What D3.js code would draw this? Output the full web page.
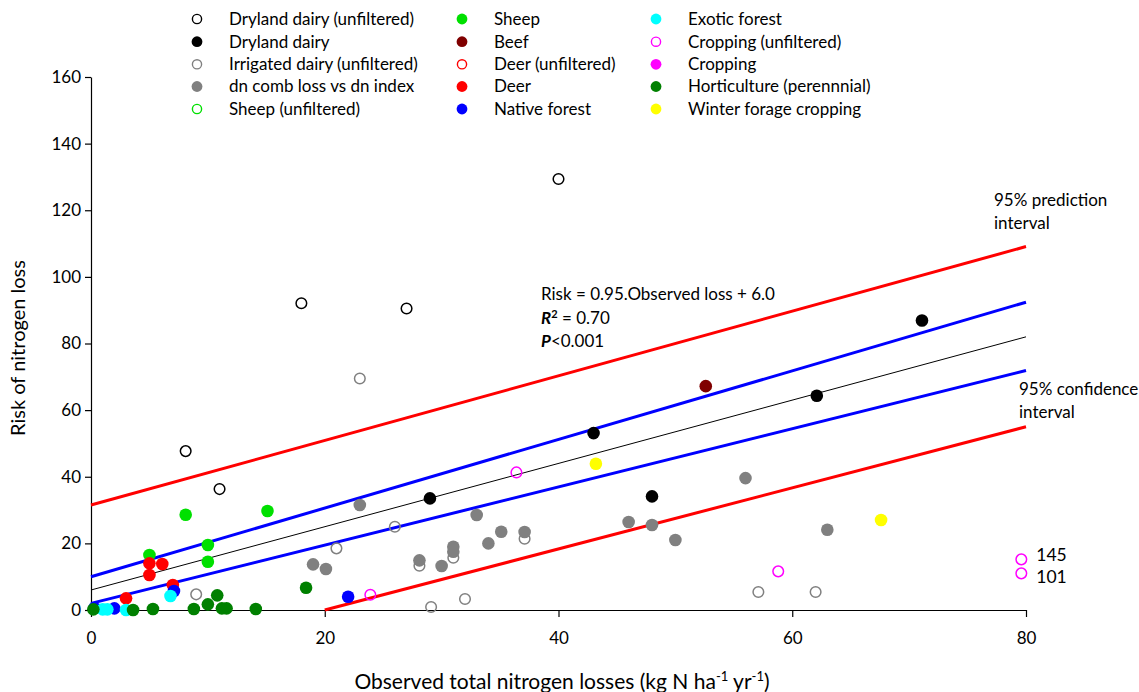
<!DOCTYPE html>
<html>
<head>
<meta charset="utf-8">
<script src="https://cdn.jsdelivr.net/npm/d3@7"></script>
<style>
  body { margin: 0; background: #fff; }
  svg text { font-family: Lato, "Liberation Sans", sans-serif; fill: #000; }
</style>
</head>
<body>
<svg id="chart" width="1139" height="692"></svg>
<script>
// points, [observed loss, risk]
const drylandUnf = [[8.1, 47.7], [11.0, 36.3], [18.0, 92.1], [27.0, 90.5], [40.0, 129.4]];
const dryland = [[29.0, 33.5], [43.0, 53.1], [48.0, 34.1], [62.1, 64.3], [71.1, 86.9]];
const irrigatedUnf = [[9.0, 4.7], [21.0, 18.5], [23.0, 69.5], [26.0, 25.0], [28.1, 13.3], [29.1, 0.9],
                      [31.0, 15.7], [32.0, 3.3], [37.1, 21.4], [57.1, 5.4], [62.0, 5.4]];
const dnComb = [[19.0, 13.7], [20.1, 12.3], [23.0, 31.5], [28.1, 14.9], [30.0, 13.2], [31.0, 19.0],
                [31.0, 17.5], [33.0, 28.5], [34.0, 20.0], [35.1, 23.5], [37.1, 23.4], [46.0, 26.4],
                [48.0, 25.5], [50.0, 21.0], [56.0, 39.6], [63.0, 24.1]];
const sheepUnf = [];
const sheep = [[5.0, 16.5], [8.1, 28.6], [10.0, 19.5], [10.0, 14.5], [15.1, 29.7]];
const beef = [[52.6, 67.2]];
const deerUnf = [];
const deer = [[3.0, 3.5], [5.0, 14.0], [6.1, 13.8], [5.0, 10.5], [7.0, 7.5]];
const nativeForest = [[0.3, 0.6], [2.0, 0.5], [7.1, 5.7], [22.0, 4.0]];
const exoticForest = [[1.0, 0.2], [1.4, 0.2], [3.0, 0.0], [6.8, 4.2]];
const croppingUnf = [[23.9, 4.6], [36.4, 41.3], [58.8, 11.6], [79.6, 15.2], [79.6, 11.0]];
const cropping = [];
const horticulture = [[0.2, 0.2], [3.6, 0.0], [5.3, 0.3], [8.8, 0.3], [10.0, 1.7], [10.8, 4.4],
                      [11.2, 0.5], [11.6, 0.5], [14.1, 0.3], [18.4, 6.7]];
const winterForage = [[43.2, 43.9], [67.6, 27.0]];

// fitted line and intervals (end points)
const fitLine = [[0, 6.0], [80, 82.0]];
const confUpper = [[0, 10.0], [80, 92.4]];
const confLower = [[0, 2.0], [80, 71.9]];
const predUpper = [[0, 31.5], [80, 109.1]];
const predLower = [[20, 0], [80, 55.0]];

const xTicks = [0, 20, 40, 60, 80];
const yTicks = [0, 20, 40, 60, 80, 100, 120, 140, 160];
// true values of the two cropping points drawn at the edge
const offscaleLabels = ["145", "101"];

const series = [
  {name: "Dryland dairy (unfiltered)", data: drylandUnf, color: "#000000", open: true},
  {name: "Dryland dairy", data: dryland, color: "#000000", open: false},
  {name: "Irrigated dairy (unfiltered)", data: irrigatedUnf, color: "#808080", open: true},
  {name: "dn comb loss vs dn index", data: dnComb, color: "#808080", open: false},
  {name: "Sheep (unfiltered)", data: sheepUnf, color: "#00e000", open: true},
  {name: "Sheep", data: sheep, color: "#00e000", open: false},
  {name: "Beef", data: beef, color: "#800000", open: false},
  {name: "Deer (unfiltered)", data: deerUnf, color: "#ff0000", open: true},
  {name: "Deer", data: deer, color: "#ff0000", open: false},
  {name: "Native forest", data: nativeForest, color: "#0000ff", open: false},
  {name: "Exotic forest", data: exoticForest, color: "#00ffff", open: false},
  {name: "Cropping (unfiltered)", data: croppingUnf, color: "#ff00ff", open: true},
  {name: "Cropping", data: cropping, color: "#ff00ff", open: false},
  {name: "Horticulture (perennnial)", data: horticulture, color: "#008000", open: false},
  {name: "Winter forage cropping", data: winterForage, color: "#ffff00", open: false}
];

const svg = d3.select("#chart");

const x = d3.scaleLinear().domain([0, 80]).range([91, 1026]);
const y = d3.scaleLinear().domain([0, 160]).range([610, 77]);

// axes
const yAxis = svg.append("g")
    .attr("transform", "translate(91,0)")
    .call(d3.axisLeft(y).tickValues(yTicks).tickSize(6).tickSizeOuter(0).tickPadding(4));
const xAxis = svg.append("g")
    .attr("transform", "translate(0,610)")
    .call(d3.axisBottom(x).tickValues(xTicks).tickSize(7).tickSizeOuter(0).tickPadding(15));
[xAxis, yAxis].forEach(g => {
  g.selectAll("path, line").attr("stroke", "#000").attr("stroke-width", 1.2);
  g.selectAll("text").attr("font-size", 17).attr("font-family", "Lato, sans-serif");
});

svg.append("text")
    .attr("x", 562).attr("y", 689)
    .attr("text-anchor", "middle")
    .attr("font-size", 21)
    .html('Observed total nitrogen losses (kg N ha<tspan dy="-8" font-size="13">-1</tspan><tspan dy="8"> yr</tspan><tspan dy="-8" font-size="13">-1</tspan><tspan dy="8">)</tspan>');

svg.append("text")
    .attr("transform", "translate(25,348) rotate(-90)")
    .attr("text-anchor", "middle")
    .attr("font-size", 20)
    .text("Risk of nitrogen loss");

// regression lines
const line = d3.line().x(d => x(d[0])).y(d => y(d[1]));
const lines = [
  {data: predUpper, color: "#ff0000", w: 3},
  {data: predLower, color: "#ff0000", w: 3},
  {data: confUpper, color: "#0000ff", w: 3},
  {data: confLower, color: "#0000ff", w: 3},
  {data: fitLine, color: "#000000", w: 1}
];
svg.append("g").selectAll("path")
  .data(lines)
  .join("path")
    .attr("d", d => line(d.data))
    .attr("fill", "none")
    .attr("stroke", d => d.color)
    .attr("stroke-width", d => d.w);

// points
const pts = svg.append("g");
series.forEach(s => {
  pts.append("g").selectAll("circle")
    .data(s.data)
    .join("circle")
      .attr("cx", d => x(d[0]))
      .attr("cy", d => y(d[1]))
      .attr("r", s.open ? 5.3 : 6.3)
      .attr("fill", s.open ? "none" : s.color)
      .attr("stroke", s.open ? s.color : "none")
      .attr("stroke-width", 1.5);
});

// off-scale labels, next to the last two cropping points
const edgePts = croppingUnf.slice(-2);
svg.append("g").selectAll("text")
  .data(offscaleLabels)
  .join("text")
    .attr("x", x(edgePts[0][0]) + 15)
    .attr("y", (d, i) => y(edgePts[i][1]) + (i === 0 ? 2 : 10))
    .attr("font-size", 17.5)
    .text(d => d);

// annotations
const ann = svg.append("g").attr("font-size", 17);
ann.append("text").attr("x", 541).attr("y", 300).text("Risk = 0.95.Observed loss + 6.0");
ann.append("text").attr("x", 541).attr("y", 324)
  .html('<tspan font-weight="bold" font-style="italic">R</tspan><tspan dy="-6" font-size="11" font-weight="bold">2</tspan><tspan dy="6"> = 0.70</tspan>');
ann.append("text").attr("x", 541).attr("y", 347)
  .html('<tspan font-weight="bold" font-style="italic">P</tspan>&lt;0.001');
ann.append("text").attr("x", 994).attr("y", 206).text("95% prediction");
ann.append("text").attr("x", 994).attr("y", 229).text("interval");
ann.append("text").attr("x", 1019).attr("y", 395).text("95% confidence");
ann.append("text").attr("x", 1019).attr("y", 418).text("interval");

// legend, three columns of five
const legendCols = [197, 462, 656];
const legendRows = [19, 41.7, 64.3, 86.5, 109];
const leg = svg.append("g").selectAll("g")
  .data(series)
  .join("g")
    .attr("transform", (d, i) => `translate(${legendCols[Math.floor(i / 5)]},${legendRows[i % 5]})`);
leg.append("circle")
    .attr("r", d => d.open ? 4.6 : 5.4)
    .attr("fill", d => d.open ? "none" : d.color)
    .attr("stroke", d => d.open ? d.color : "none")
    .attr("stroke-width", 1.4);
leg.append("text")
    .attr("x", 32)
    .attr("dy", "0.35em")
    .attr("font-size", 17)
    .text(d => d.name);
</script>
</body>
</html>
